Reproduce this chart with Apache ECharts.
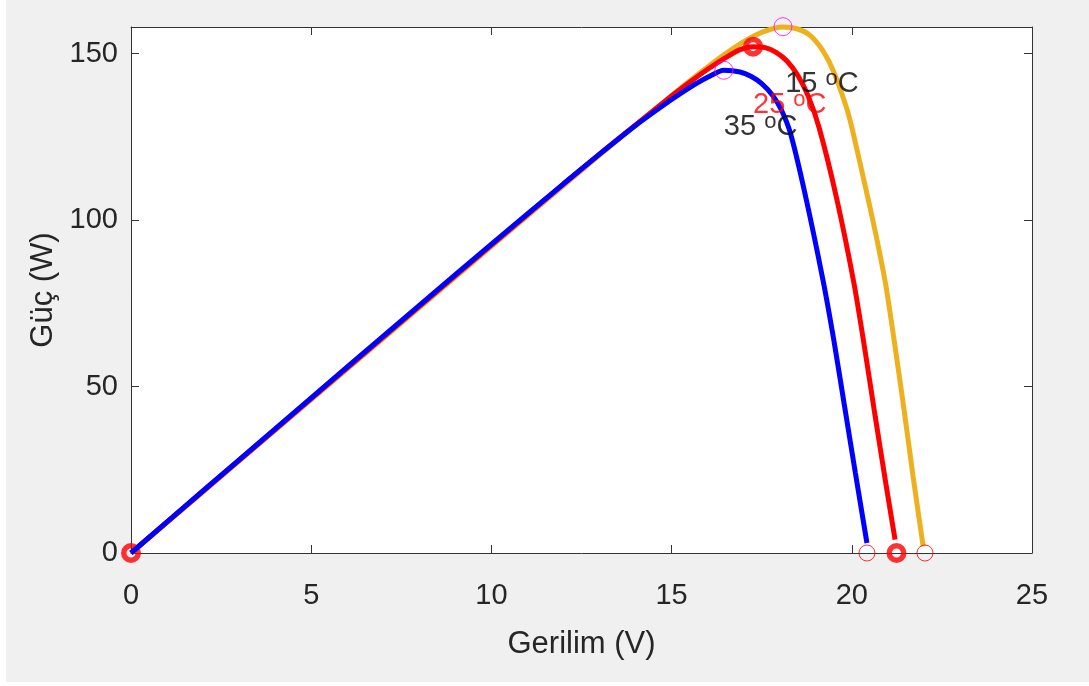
<!DOCTYPE html>
<html>
<head>
<meta charset="utf-8">
<script src="https://cdn.jsdelivr.net/npm/echarts@6/dist/echarts.min.js"></script>
<style>
  html, body { margin: 0; padding: 0; background: #fff; }
  #box1 { width: 1089px; height: 686px; }
</style>
</head>
<body>
<div id="box1"></div>
<script>
// 15 oC (sari)
var v15 = [0, 2, 4, 6, 8, 10, 12, 13, 14, 15, 15.5, 16, 16.5, 17, 17.5, 18.09, 18.5, 18.85, 19.2, 19.5, 19.86, 20.03, 20.46, 20.7, 20.95, 21.2, 21.45, 21.7, 21.98];
var p15 = [0, 18.4, 36.9, 55.3, 73.7, 92.1, 110.4, 119.5, 128.5, 137.4, 141.8, 146.0, 150.0, 153.6, 156.4, 158, 157.4, 155.4, 150.8, 144.5, 133.5, 126.5, 106, 94, 80, 62, 43, 23, 2];
// 25 oC (kirmizi)
var v25 = [0, 2, 4, 6, 8, 10, 12, 13, 14, 15, 15.5, 16, 16.5, 16.9, 17.26, 17.6, 17.9, 18.2, 18.5, 18.8, 19.1, 19.58, 20.06, 20.35, 20.65, 20.95, 21.2];
var p25 = [0, 18.6, 37.1, 55.6, 74.1, 92.5, 110.8, 119.8, 128.6, 137.3, 141.4, 145.3, 148.8, 151.2, 152.1, 151.8, 150.4, 147.8, 143.5, 137, 127.5, 106.5, 81, 62, 41, 20.5, 4];
// 35 oC (mavi)
var v35 = [0, 2, 4, 6, 8, 10, 12, 13, 14, 15, 15.5, 16, 16.45, 16.9, 17.2, 17.5, 17.8, 18.05, 18.3, 18.7, 19.2, 19.5, 19.8, 20.1, 20.42];
var p35 = [0, 18.7, 37.3, 55.9, 74.4, 92.8, 110.9, 119.8, 128.4, 136.2, 139.8, 142.9, 145, 144.5, 143.2, 141, 137.5, 133, 126, 108, 82, 64, 44, 24, 3];

// isaretler
var thickRing = [[0, 0], [17.26, 152.1], [21.24, 0]];
var thinRing = [[20.42, 0], [22.03, 0]];
var mppRing = [[16.45, 145], [18.09, 158.1]];

// etiketler
var lblText = ['15', '25', '35'];
var lblV = [18.15, 17.26, 16.45];
var lblP = [141, 134.5, 128];
var lblColor = ['#000', '#ff0000', '#000'];

var xTicks = [0, 5, 10, 15, 20, 25];
var yTicks = [0, 50, 100, 150];

var FONT = "'Liberation Sans', Arial, sans-serif";
var AX = '#333';
var TXT = '#262626';

function pairs(v, p) {
    return v.map(function (x, i) { return [x, p[i]]; });
}

var myChart1 = echarts.init(document.getElementById('box1'));

var lineSeries = function (name, v, p, color) {
    return {
        name: name,
        type: 'line',
        data: pairs(v, p),
        showSymbol: false,
        smooth: 0.25,
        clip: false,
        z: 2,
        lineStyle: { color: color, width: 5 }
    };
};

var labelData = lblText.map(function (t, i) {
    return {
        value: [lblV[i], lblP[i]],
        label: {
            show: true,
            position: 'right',
            distance: 0,
            formatter: '{n|' + t + ' }{s|o}{n|C}',
            rich: {
                n: { fontFamily: FONT, fontSize: 29, color: lblColor[i], lineHeight: 32 },
                s: { fontFamily: FONT, fontSize: 22, color: lblColor[i], verticalAlign: 'top', lineHeight: 20 }
            }
        }
    };
});

var ringStyle = function (color, bw) {
    return { color: 'rgba(0,0,0,0)', borderColor: color, borderWidth: bw };
};

var option = {
    backgroundColor: '#fff',
    animation: false,
    graphic: [{
        type: 'rect',
        z: -10,
        shape: { x: 6, y: 0, width: 1083, height: 682 },
        style: { fill: '#f0f0f0' }
    }],
    grid: {
        left: 131,
        right: 57,
        top: 27,
        bottom: 133,
        show: true,
        backgroundColor: '#fff',
        borderWidth: 0
    },
    xAxis: [{
        type: 'value',
        min: 0,
        max: 25,
        interval: 5,
        name: 'Gerilim (V)',
        nameLocation: 'middle',
        nameGap: 76,
        nameTextStyle: { fontFamily: FONT, fontSize: 31, color: TXT },
        axisLine: { show: true, onZero: false, lineStyle: { color: AX, width: 1 } },
        axisTick: { show: true, inside: true, length: 8, lineStyle: { color: AX }, customValues: xTicks },
        axisLabel: { margin: 28, fontFamily: FONT, fontSize: 29, color: TXT, customValues: xTicks },
        splitLine: { show: false }
    }, {
        type: 'value',
        position: 'top',
        min: 0,
        max: 25,
        interval: 5,
        axisLine: { show: true, onZero: false, lineStyle: { color: AX, width: 1 } },
        axisTick: { show: true, inside: true, length: 8, lineStyle: { color: AX }, customValues: xTicks },
        axisLabel: { show: false },
        splitLine: { show: false }
    }],
    yAxis: [{
        type: 'value',
        min: 0,
        max: 158,
        interval: 50,
        name: 'Güç (W)',
        nameLocation: 'middle',
        nameGap: 62,
        nameTextStyle: { fontFamily: FONT, fontSize: 31, color: TXT },
        axisLine: { show: true, onZero: false, lineStyle: { color: AX, width: 1 } },
        axisTick: { show: true, inside: true, length: 8, lineStyle: { color: AX }, customValues: yTicks },
        axisLabel: { margin: 13, fontFamily: FONT, fontSize: 29, color: TXT, customValues: yTicks },
        splitLine: { show: false }
    }, {
        type: 'value',
        position: 'right',
        min: 0,
        max: 158,
        interval: 50,
        axisLine: { show: true, onZero: false, lineStyle: { color: AX, width: 1 } },
        axisTick: { show: true, inside: true, length: 8, lineStyle: { color: AX }, customValues: yTicks },
        axisLabel: { show: false },
        splitLine: { show: false }
    }],
    series: [
        {
            type: 'scatter',
            data: [thickRing[0]],
            symbolSize: 14.5,
            clip: false,
            z: 1,
            itemStyle: ringStyle('#ff0000', 5.5)
        },
        lineSeries('15', v15, p15, '#EDB120'),
        lineSeries('25', v25, p25, '#ff0000'),
        lineSeries('35', v35, p35, '#0000ff'),
        {
            type: 'scatter',
            data: thickRing.slice(1),
            symbolSize: 14.5,
            clip: false,
            z: 3,
            itemStyle: ringStyle('#ff0000', 5.5)
        },
        {
            type: 'scatter',
            data: thinRing,
            symbolSize: 16,
            clip: false,
            z: 3,
            itemStyle: ringStyle('#ff0000', 1)
        },
        {
            type: 'scatter',
            data: mppRing,
            symbolSize: 18,
            clip: false,
            z: 3,
            itemStyle: ringStyle('#ff00ff', 1)
        },
        {
            type: 'scatter',
            data: labelData,
            symbolSize: 0,
            clip: false,
            z: 4,
            itemStyle: { color: 'rgba(0,0,0,0)' }
        }
    ]
};

myChart1.setOption(option);
</script>
</body>
</html>
